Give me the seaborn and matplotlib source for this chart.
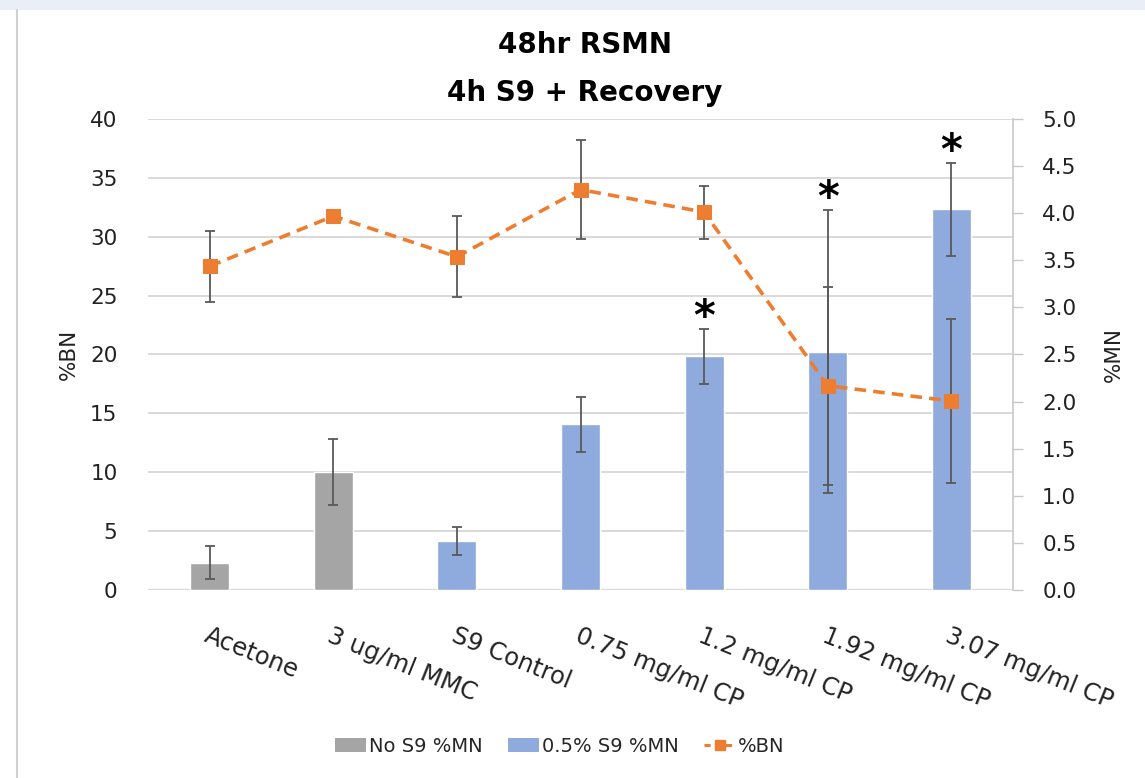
import numpy as np
import pandas as pd
import matplotlib
matplotlib.use("Agg")
import matplotlib.pyplot as plt
from matplotlib.patches import Rectangle, Patch
from matplotlib.lines import Line2D
import seaborn as sns

# ---------------- data ----------------
categories = ["Acetone", "3 ug/ml MMC", "S9 Control", "0.75 mg/ml CP",
              "1.2 mg/ml CP", "1.92 mg/ml CP", "3.07 mg/ml CP"]
groups = ["No S9 %MN", "No S9 %MN", "0.5% S9 %MN", "0.5% S9 %MN",
          "0.5% S9 %MN", "0.5% S9 %MN", "0.5% S9 %MN"]
mn_values = [0.29, 1.25, 0.52, 1.76, 2.48, 2.53, 4.04]      # %MN (right axis)
mn_errors = [0.175, 0.35, 0.15, 0.29, 0.29, 1.50, 0.49]
bn_values = [27.5, 31.75, 28.3, 34.0, 32.1, 17.35, 16.05]   # %BN (left axis)
bn_errors = [3.0, 0.0, 3.45, 4.2, 2.25, 8.4, 7.0]
significant = [False, False, False, False, True, True, True]
left_ticks = [0, 5, 10, 15, 20, 25, 30, 35, 40]
right_ticks = [0.0, 0.5, 1.0, 1.5, 2.0, 2.5, 3.0, 3.5, 4.0, 4.5, 5.0]
BN_MAX, MN_MAX = 40, 5.0

GRAY = "#a5a5a5"
BLUE = "#8faadc"
ORANGE = "#ed7d31"
ERR = "#595959"

sns.set_theme(style="white")
plt.rcParams["font.family"] = ["DejaVu Sans"]

df = pd.DataFrame({"cat": categories, "grp": groups, "mn": mn_values})

W, H = 1145, 778
fig = plt.figure(figsize=(W / 100, H / 100), dpi=100)
fig.patch.set_facecolor("white")
# faint frame like the slide background
fig.add_artist(Rectangle((0, 1 - 10 / H), 1, 10 / H, transform=fig.transFigure,
                         facecolor="#e9eff6", edgecolor="none", zorder=0))
fig.add_artist(Line2D([17 / W, 17 / W], [0, 1 - 10 / H], transform=fig.transFigure,
                      color="#d0d0d0", lw=1.5, zorder=0))

ax = fig.add_axes([148 / W, 1 - 590 / H, (1013 - 148) / W, (590 - 119) / H])
ax2 = ax.twinx()   # %BN axis, drawn on top of the bars

# horizontal gridlines at the %BN ticks (behind the bars)
for t in left_ticks:
    ax.axhline(t * MN_MAX / BN_MAX, color="#d9d9d9", lw=1.4 if t else 1.7, zorder=0)

sns.barplot(data=df, x="cat", y="mn", hue="grp", order=categories,
            palette={"No S9 %MN": GRAY, "0.5% S9 %MN": BLUE},
            dodge=False, width=0.316, ax=ax, legend=False, saturation=1,
            errorbar=None, zorder=2)
xpos = np.arange(len(categories))
ax.errorbar(xpos, mn_values, yerr=mn_errors, fmt="none", ecolor=ERR,
            elinewidth=1.3, capsize=3.5, capthick=1.3, zorder=3)

ax.set_xlim(-0.5, len(categories) - 0.5)
ax.set_ylim(0, MN_MAX)
ax.set_yticks(right_ticks)
ax.set_yticklabels([f"{t:.1f}" for t in right_ticks], fontsize=15.5, color="#222222")
ax.grid(False)
for s in ["top", "left", "bottom"]:
    ax.spines[s].set_visible(False)
ax.spines["right"].set_color("#c8c8c8")
ax.spines["right"].set_linewidth(1.2)
ax.set_xlabel("")
ax.set_xticks(xpos)
ax.set_xticklabels(categories, rotation=-22, ha="left", va="top",
                   rotation_mode="anchor", fontsize=17.5, color="#222222")
ax.tick_params(axis="x", length=0, pad=24)

# stars above significant bars
for i, sig in enumerate(significant):
    if sig:
        ax.annotate("*", xy=(i, mn_values[i] + mn_errors[i]), xytext=(0, -7),
                    textcoords="offset points", ha="center", va="bottom",
                    fontsize=30, fontweight="bold", color="black", zorder=6)

# %BN line on twin axis
ax2.set_ylim(0, BN_MAX)
sns.lineplot(x=xpos, y=bn_values, ax=ax2, color=ORANGE, lw=2.6,
             linestyle=(0, (3.2, 2.0)), marker="s", markersize=9.5,
             markeredgecolor=ORANGE, markerfacecolor=ORANGE, zorder=5)
bn_err_arr = np.array(bn_errors)
mask = bn_err_arr > 0
ax2.errorbar(xpos[mask], np.array(bn_values)[mask], yerr=bn_err_arr[mask],
             fmt="none", ecolor=ERR, elinewidth=1.3, capsize=3.5, capthick=1.3,
             zorder=4)
ax2.yaxis.tick_left()
ax2.yaxis.set_label_position("left")
ax2.set_yticks(left_ticks)
ax2.set_yticklabels([str(t) for t in left_ticks], fontsize=15.5, color="#222222")
ax2.tick_params(axis="y", length=0, pad=22, left=True, right=False,
                labelleft=True, labelright=False)
ax2.set_ylabel("%BN", fontsize=15.5, color="#222222")
ax2.yaxis.set_label_coords(-0.08, 0.5)
for s in ["top", "left", "bottom", "right"]:
    ax2.spines[s].set_visible(False)
ax2.grid(False)

# bar axis: ticks and label on the right
ax.yaxis.tick_right()
ax.yaxis.set_label_position("right")
ax.tick_params(axis="y", which="major", direction="out", length=7, width=1,
               color="#c8c8c8", pad=14, right=True, left=False,
               labelright=True, labelleft=False)
ax.set_ylabel("%MN", fontsize=15.5, rotation=90, color="#222222")
ax.yaxis.set_label_coords(1.105, 0.5)

# title
fig.text(585 / W, 1 - 45 / H, "48hr RSMN", ha="center", va="center",
         fontsize=20, fontweight="bold", color="black")
fig.text(585 / W, 1 - 93 / H, "4h S9 + Recovery", ha="center", va="center",
         fontsize=20, fontweight="bold", color="black")

# legend
handles = [Patch(facecolor=GRAY, edgecolor="none"),
           Patch(facecolor=BLUE, edgecolor="none"),
           Line2D([0], [0], color=ORANGE, lw=2.2, linestyle=(0, (2, 1.5)),
                  marker="s", markersize=7)]
labels = ["No S9 %MN", "0.5% S9 %MN", "%BN"]
fig.legend(handles, labels, loc="center", bbox_to_anchor=(560 / W, 1 - 746 / H),
           ncol=3, frameon=False, fontsize=14, handlelength=1.6,
           handleheight=0.7, handletextpad=0.15, columnspacing=1.3)

fig.savefig("out.png", dpi=100, facecolor="white")
